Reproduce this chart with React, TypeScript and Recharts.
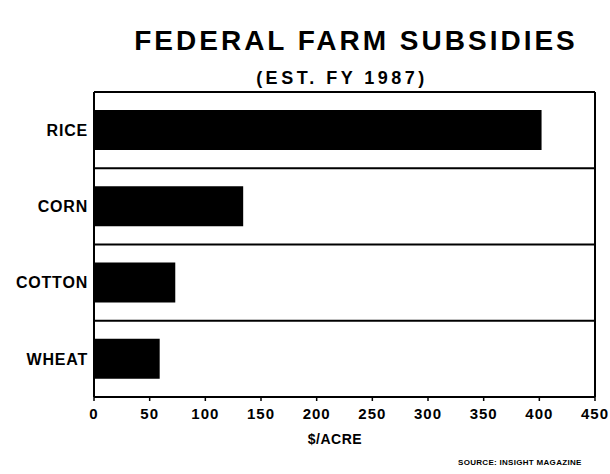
import { BarChart, Bar, XAxis, YAxis, CartesianGrid } from "recharts";

const crops = ["RICE", "CORN", "COTTON", "WHEAT"];
const subsidies = [402, 134, 73, 59];
const xTicks = [0, 50, 100, 150, 200, 250, 300, 350, 400, 450];

const title = "FEDERAL FARM SUBSIDIES";
const subtitle = "(EST. FY 1987)";
const axisTitle = "$/ACRE";
const source = "SOURCE: INSIGHT MAGAZINE";

const data = crops.map((crop, i) => ({ crop, value: subsidies[i] }));

const font = "'Liberation Sans', Arial, sans-serif";

// lines between the category bands, plus top and bottom of the box
const bandLines = ({ offset }: any) => {
  const step = offset.height / crops.length;
  return crops.map((_, i) => offset.top + i * step).concat(offset.top + offset.height);
};

const boxSides = ({ offset }: any) => [offset.left, offset.left + offset.width];

export default function App() {
  return (
    <div style={{ position: "absolute", left: 0, top: 0, width: 610, height: 474, background: "#fff" }}>
      <BarChart
        width={610}
        height={474}
        data={data}
        layout="vertical"
        margin={{ top: 92, right: 15, bottom: 47, left: 0 }}
      >
        <CartesianGrid
          stroke="#000"
          strokeWidth={2}
          horizontalCoordinatesGenerator={bandLines}
          verticalCoordinatesGenerator={boxSides}
        />
        <XAxis
          type="number"
          domain={[0, 450]}
          ticks={xTicks}
          interval={0}
          height={30}
          axisLine={{ stroke: "#000", strokeWidth: 2 }}
          tickLine={{ stroke: "#000", strokeWidth: 1.5 }}
          tickSize={4}
          tickMargin={7}
          tick={{ fill: "#000", fontSize: 15, fontWeight: 700, fontFamily: font, letterSpacing: 1 }}
        />
        <YAxis
          type="category"
          dataKey="crop"
          width={94}
          axisLine={{ stroke: "#000", strokeWidth: 2 }}
          tickLine={false}
          tickSize={4}
          tickMargin={2}
          tick={{ fill: "#000", fontSize: 16, fontWeight: 700, fontFamily: font, letterSpacing: 0.8 }}
        />
        <Bar dataKey="value" fill="#000" barSize={40} isAnimationActive={false} />
      </BarChart>
      <svg
        width={610}
        height={474}
        style={{ position: "absolute", left: 0, top: 0, pointerEvents: "none" }}
        fontFamily={font}
        fontWeight={700}
      >
        <text x={356} y={50} fontSize={28} letterSpacing={3} textAnchor="middle">
          {title}
        </text>
        <text x={342} y={84} fontSize={18} letterSpacing={3.5} textAnchor="middle">
          {subtitle}
        </text>
        <text x={335} y={444} fontSize={14} letterSpacing={0.5} textAnchor="middle">
          {axisTitle}
        </text>
        <text x={458} y={465} fontSize={8} letterSpacing={0.3}>
          {source}
        </text>
      </svg>
    </div>
  );
}
